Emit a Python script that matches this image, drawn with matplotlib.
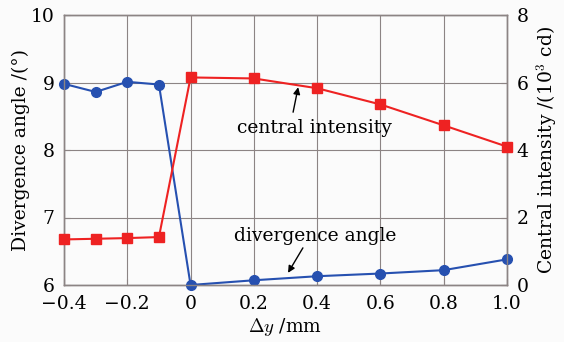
import matplotlib
matplotlib.use("Agg")
import matplotlib.pyplot as plt

dy = [-0.4, -0.3, -0.2, -0.1, 0.0, 0.2, 0.4, 0.6, 0.8, 1.0]
divergence = [8.98, 8.86, 9.01, 8.97, 6.0, 6.07, 6.13, 6.17, 6.22, 6.38]
intensity = [1.35, 1.37, 1.39, 1.42, 6.15, 6.12, 5.83, 5.35, 4.73, 4.10]
xticks = [-0.4, -0.2, 0, 0.2, 0.4, 0.6, 0.8, 1.0]
xticklabels = ["\u22120.4", "\u22120.2", "0", "0.2", "0.4", "0.6", "0.8", "1.0"]

plt.rcParams['font.family'] = ['DejaVu Serif']
plt.rcParams['mathtext.fontset'] = 'cm'

fig = plt.figure(figsize=(5.64, 3.42), dpi=100)
fig.patch.set_facecolor('#fbfbfb')
ax = fig.add_axes([64/564, 1-285/342, (507-64)/564, (285-15)/342])
ax.set_facecolor('#fbfbfb')
ax2 = ax.twinx()

gc = '#8c8484'
blue = '#2650b0'
red = '#ee2222'
fs = 13.5

ax.plot(dy, divergence, '-o', color=blue, lw=1.5, ms=7, zorder=3, clip_on=False)
ax2.plot(dy, intensity, '-s', color=red, lw=1.5, ms=7, zorder=3, clip_on=False)

ax.set_xlim(-0.4, 1.0)
ax.set_ylim(6, 10)
ax2.set_ylim(0, 8)
ax.set_xticks(xticks)
ax.set_xticklabels(xticklabels)
ax.set_yticks([6, 7, 8, 9, 10])
ax2.set_yticks([0, 2, 4, 6, 8])
ax.grid(True, color=gc, lw=0.8)
for a in (ax, ax2):
    for s in a.spines.values():
        s.set_color(gc)
        s.set_linewidth(1.0)
    a.tick_params(direction='in', length=4, color=gc, labelsize=fs, pad=7)

ax.set_xlabel(r"$\Delta y$ /mm", fontsize=fs, labelpad=2)
ax.set_ylabel("Divergence angle /(\u00b0)", fontsize=fs, labelpad=0)
ax2.set_ylabel("Central intensity /(10$^3$ cd)", fontsize=fs, labelpad=4)

ax.text(0.393, 8.33, "central intensity", ha='center', va='center', fontsize=fs, zorder=5)
ax.text(0.393, 6.73, "divergence angle", ha='center', va='center', fontsize=fs, zorder=5)
ax.annotate("", xy=(0.34, 8.93), xytext=(0.324, 8.56),
            arrowprops=dict(arrowstyle='-|>', color='black', lw=1.0,
                            shrinkA=0, shrinkB=0, mutation_scale=10))
ax.annotate("", xy=(0.308, 6.18), xytext=(0.355, 6.55),
            arrowprops=dict(arrowstyle='-|>', color='black', lw=1.0,
                            shrinkA=0, shrinkB=0, mutation_scale=10))

fig.savefig("out.png", dpi=100, facecolor=fig.get_facecolor())
